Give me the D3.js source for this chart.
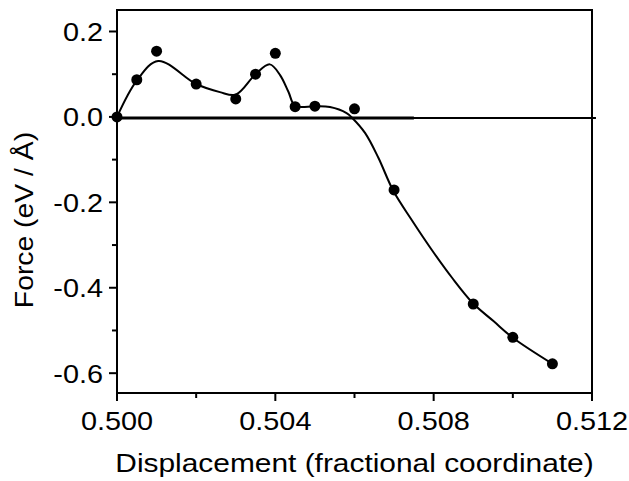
<!DOCTYPE html>
<html>
<head>
<meta charset="utf-8">
<script src="https://cdn.jsdelivr.net/npm/d3@7"></script>
<style>
  body { margin: 0; background: #fff; }
  text { font-family: "Liberation Sans", Arial, sans-serif; fill: #000; }
</style>
</head>
<body>
<div id="chart"></div>
<script>
// measured points
const dispX = [0.5000, 0.5005, 0.5010, 0.5020, 0.5030, 0.5035, 0.5040, 0.5045, 0.5050, 0.5060, 0.5070, 0.5090, 0.5100, 0.5110];
const forceY = [0.000, 0.087, 0.154, 0.077, 0.042, 0.100, 0.149, 0.024, 0.025, 0.019, -0.171, -0.438, -0.516, -0.578];

// smooth fitted curve
const fitX = [0.5000, 0.5005, 0.50104, 0.5020, 0.5026, 0.5030, 0.5035, 0.50386, 0.50412, 0.50433, 0.5045, 0.5050, 0.50538, 0.5058, 0.50595, 0.50627, 0.5066, 0.50698, 0.50745, 0.50795, 0.50846, 0.5090, 0.50951, 0.5100, 0.5110];
const fitY = [0.000, 0.085, 0.131, 0.077, 0.058, 0.052, 0.100, 0.123, 0.098, 0.059, 0.026, 0.025, 0.023, 0.009, -0.003, -0.038, -0.095, -0.173, -0.242, -0.311, -0.376, -0.437, -0.478, -0.517, -0.578];

const xTicks = [0.500, 0.504, 0.508, 0.512];
const xMinor = [0.502, 0.506, 0.510];
const yTicks = [0.2, 0.0, -0.2, -0.4, -0.6];
const yMinor = [0.1, -0.1, -0.3, -0.5];

const W = 629, H = 481;
const margin = { top: 10, right: 37, bottom: 88, left: 117 },
      width = W - margin.left - margin.right,
      height = H - margin.top - margin.bottom;

const svg = d3.select("#chart").append("svg")
    .attr("width", W)
    .attr("height", H);

const g = svg.append("g")
    .attr("transform", `translate(${margin.left},${margin.top})`);

const x = d3.scaleLinear().domain([0.500, 0.512]).range([0, width]);
const y = d3.scaleLinear().domain([-0.6464, 0.2503]).range([height, 0]);

// zero line: thick part then thin part running past the frame
g.append("line")
    .attr("x1", x(0.500)).attr("x2", x(0.5121))
    .attr("y1", y(0) + 1).attr("y2", y(0) + 1)
    .attr("stroke", "#000").attr("stroke-width", 2);
g.append("line")
    .attr("x1", x(0.500)).attr("x2", x(0.5075))
    .attr("y1", y(0) + 1).attr("y2", y(0) + 1)
    .attr("stroke", "#000").attr("stroke-width", 3);

// frame
g.append("rect")
    .attr("x", 0).attr("y", 0)
    .attr("width", width).attr("height", height)
    .attr("fill", "none").attr("stroke", "#000").attr("stroke-width", 2);

const fmtY = d => d3.format(".1f")(d).replace("−", "-");

// x axis
const xAxis = g.append("g").attr("transform", `translate(0,${height})`);
xAxis.selectAll(".maj").data(xTicks).enter().append("line")
    .attr("x1", d => x(d)).attr("x2", d => x(d))
    .attr("y1", 0).attr("y2", 8)
    .attr("stroke", "#000").attr("stroke-width", 2);
xAxis.selectAll(".min").data(xMinor).enter().append("line")
    .attr("x1", d => x(d)).attr("x2", d => x(d))
    .attr("y1", 0).attr("y2", 5)
    .attr("stroke", "#000").attr("stroke-width", 2);
xAxis.selectAll("text").data(xTicks).enter().append("text")
    .attr("transform", d => `translate(${x(d)},37) scale(1.11,1)`)
    .attr("text-anchor", "middle")
    .style("font-size", "26px")
    .text(d => d3.format(".3f")(d));

// y axis
const yAxis = g.append("g");
yAxis.selectAll(".maj").data(yTicks).enter().append("line")
    .attr("x1", -8).attr("x2", 0)
    .attr("y1", d => y(d)).attr("y2", d => y(d))
    .attr("stroke", "#000").attr("stroke-width", 2);
yAxis.selectAll(".min").data(yMinor).enter().append("line")
    .attr("x1", -5).attr("x2", 0)
    .attr("y1", d => y(d)).attr("y2", d => y(d))
    .attr("stroke", "#000").attr("stroke-width", 2);
yAxis.selectAll("text").data(yTicks).enter().append("text")
    .attr("transform", d => `translate(-14,${y(d) + 9.5}) scale(1.11,1)`)
    .attr("text-anchor", "end")
    .style("font-size", "26px")
    .text(fmtY);

// titles
svg.append("text")
    .attr("transform", `translate(${margin.left + width / 2},472) scale(1.15,1)`)
    .attr("text-anchor", "middle")
    .style("font-size", "26px")
    .text("Displacement (fractional coordinate)");

svg.append("text")
    .attr("transform", `translate(33,220) rotate(-90) scale(1.09,1)`)
    .attr("text-anchor", "middle")
    .style("font-size", "26px")
    .text("Force (eV / Å)");

// fitted curve
const fit = fitX.map((d, i) => ({ x: d, y: fitY[i] }));
const line = d3.line()
    .x(d => x(d.x))
    .y(d => y(d.y))
    .curve(d3.curveCatmullRom.alpha(0.5));

g.append("path")
    .datum(fit)
    .attr("d", line)
    .attr("fill", "none")
    .attr("stroke", "#000")
    .attr("stroke-width", 2);

// points
g.selectAll(".dot")
    .data(dispX.map((d, i) => ({ x: d, y: forceY[i] })))
    .enter().append("circle")
    .attr("class", "dot")
    .attr("cx", d => x(d.x))
    .attr("cy", d => y(d.y))
    .attr("r", 5.5)
    .attr("fill", "#000");
</script>
</body>
</html>
